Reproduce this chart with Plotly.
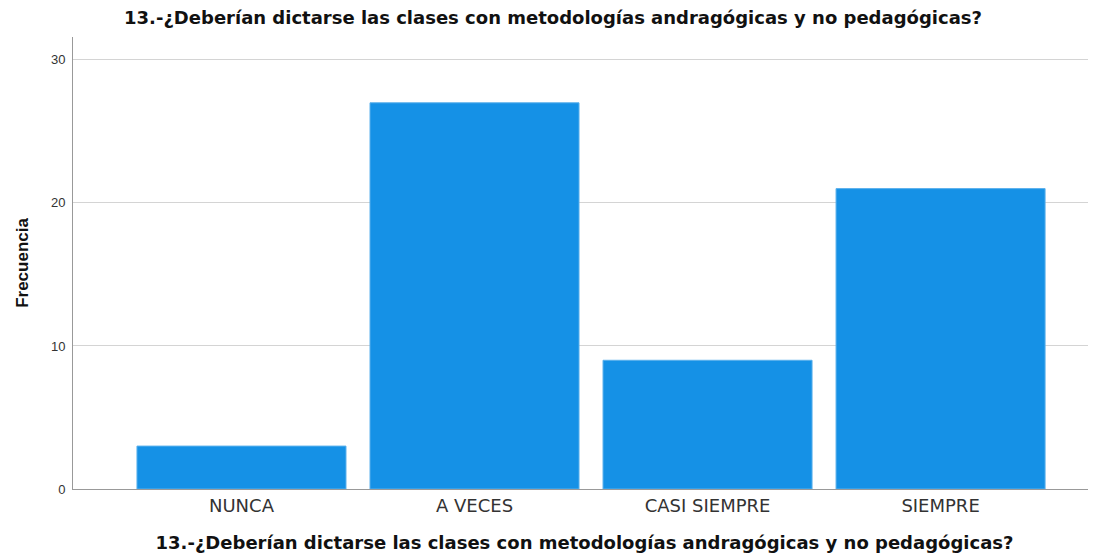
import plotly.graph_objects as go

categories = ["NUNCA", "A VECES", "CASI SIEMPRE", "SIEMPRE"]
frecuencia = [3, 27, 9, 21]
y_ticks = [0, 10, 20, 30]
title_text = "13.-¿Deberían dictarse las clases con metodologías andragógicas y no pedagógicas?"

W, H = 1088, 546  # page body has an 8px margin

fig = go.Figure()
fig.add_trace(go.Bar(
    x=list(range(len(categories))), y=frecuencia,
    width=0.897,
    marker=dict(color="#1591E6", line=dict(color="#5AB0EC", width=1)),
))

fig.update_layout(
    width=W, height=H,
    margin=dict(l=65, r=0, t=29, b=65),
    plot_bgcolor="white", paper_bgcolor="white",
    showlegend=False,
    title=dict(text="<b>" + title_text + "</b>", x=(553 - 8) / W, xanchor="center",
               y=1 - 10 / H, yanchor="middle",
               font=dict(family="DejaVu Sans", size=18, color="#111111")),
    xaxis=dict(
        range=[-0.723, 3.667], automargin=False,
        tickmode="array", tickvals=list(range(len(categories))), ticktext=categories,
        showgrid=False, showline=True, linecolor="#999999", linewidth=1,
        ticks="", zeroline=False,
        tickfont=dict(family="DejaVu Sans", size=18, color="#333333"),
        title=dict(text="<b>" + title_text + "</b>", standoff=21,
                   font=dict(family="DejaVu Sans", size=18, color="#111111")),
    ),
    yaxis=dict(
        range=[0, 31.6], automargin=False,
        tickmode="array", tickvals=y_ticks,
        showgrid=True, gridcolor="#d4d4d4", gridwidth=1,
        showline=True, linecolor="#999999", linewidth=1,
        ticks="outside", ticklen=4, tickcolor="rgba(0,0,0,0)",
        zeroline=False,
        tickfont=dict(family="Liberation Sans, Arial", size=13, color="#333333"),
        title=dict(text="<b>Frecuencia</b>", standoff=17,
                   font=dict(family="Liberation Sans Narrow, Arial Narrow, Liberation Sans", size=17, color="#111111")),
    ),
)

fig.write_html("out.html")
